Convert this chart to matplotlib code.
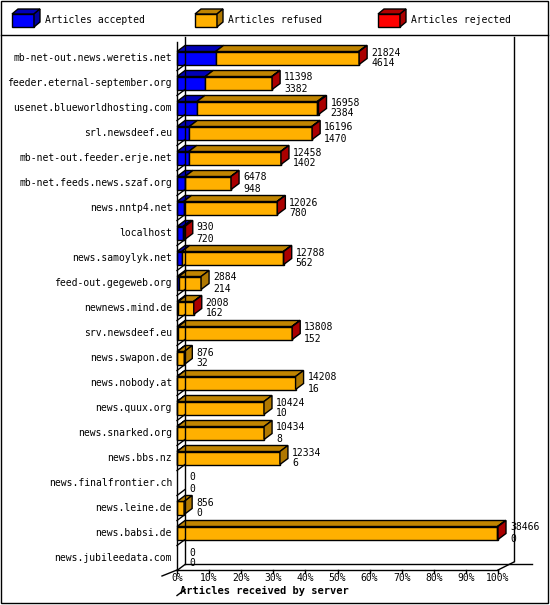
import matplotlib
matplotlib.use("Agg")
import matplotlib.pyplot as plt
from matplotlib.patches import Polygon, Rectangle

servers = ["mb-net-out.news.weretis.net", "feeder.eternal-september.org", "usenet.blueworldhosting.com",
           "srl.newsdeef.eu", "mb-net-out.feeder.erje.net", "mb-net.feeds.news.szaf.org", "news.nntp4.net",
           "localhost", "news.samoylyk.net", "feed-out.gegeweb.org", "newnews.mind.de", "srv.newsdeef.eu",
           "news.swapon.de", "news.nobody.at", "news.quux.org", "news.snarked.org", "news.bbs.nz",
           "news.finalfrontier.ch", "news.leine.de", "news.babsi.de", "news.jubileedata.com"]
offered = [21824, 11398, 16958, 16196, 12458, 6478, 12026, 930, 12788, 2884, 2008, 13808,
           876, 14208, 10424, 10434, 12334, 0, 856, 38466, 0]
accepted = [4614, 3382, 2384, 1470, 1402, 948, 780, 720, 562, 214, 162, 152, 32, 16, 10, 8, 6, 0, 0, 0, 0]
rejected = [60, 40, 150, 50, 40, 20, 40, 210, 40, 0, 30, 40, 0, 0, 0, 0, 0, 0, 0, 60, 0]
legend_labels = ["Articles accepted", "Articles refused", "Articles rejected"]
ticks = list(range(0, 101, 10))

W, H = 550, 605
fig = plt.figure(figsize=(5.5, 6.05), dpi=100)
ax = fig.add_axes([0, 0, 1, 1])
PX = 3.21  # px per percent
x0 = 177
ax.set_xlim(-x0 / PX, (W - x0) / PX)
RS = 25.0
ax.set_ylim((H - 58) / RS, -58 / RS)
ax.axis("off")
dx, dy = 8 / PX, -6 / RS
hh = 6.5 / RS
mono = "DejaVu Sans Mono"
FS = 7

def px(xp): return (xp - x0) / PX
def py(yp): return (yp - 58) / RS

fronts = ["#0000ff", "#ffb000", "#ff0000"]
tops = ["#0000b8", "#c08400", "#b00000"]
sides = ["#0000a0", "#b07800", "#aa0000"]

ax.add_patch(Rectangle((px(1), py(1)), px(548) - px(1), py(603) - py(1), fill=False, lw=1, ec="black"))
ax.plot([px(1), px(548)], [py(35), py(35)], color="black", lw=1)

for k, (lx, lab) in enumerate(zip([12, 195, 378], legend_labels)):
    x, y = px(lx), py(27)
    w, h = 22 / PX, 13 / RS
    ddx, ddy = 6 / PX, -5 / RS
    ax.add_patch(Polygon([(x, y), (x + w, y), (x + w, y - h), (x, y - h)], fc=fronts[k], ec="black", lw=1))
    ax.add_patch(Polygon([(x, y - h), (x + w, y - h), (x + w + ddx, y - h + ddy), (x + ddx, y - h + ddy)], fc=tops[k], ec="black", lw=1))
    ax.add_patch(Polygon([(x + w, y), (x + w + ddx, y + ddy), (x + w + ddx, y - h + ddy), (x + w, y - h)], fc=sides[k], ec="black", lw=1))
    ax.text(px(lx + 33), py(20), lab, family=mono, fontsize=FS, va="center")

ax.plot([0, 0], [py(42), py(570)], color="black", lw=1)
ax.plot([dx, dx], [py(37), py(564)], color="black", lw=1)
ax.plot([100 + dx + 8 / PX, 100 + dx + 8 / PX], [py(37), py(561)], color="black", lw=1)
ax.plot([dx, px(532)], [py(564), py(564)], color="black", lw=1)
ax.plot([0, 100], [py(570), py(570)], color="black", lw=1)
ax.plot([100, 100 + dx + 8 / PX], [py(570), py(562)], color="black", lw=1)
ax.plot([px(162), 0], [py(576), py(570)], color="black", lw=1)
for i in range(len(servers) + 1):
    yb = i + 0.5
    ax.plot([0, dx], [yb, yb + dy], color="black", lw=1)
for t in ticks:
    ax.plot([t, t], [py(570), py(573)], color="black", lw=1)
    ax.text(t, py(578), f"{t}%", family=mono, fontsize=FS, ha="center", va="center")
ax.text(px(180), py(591), "Articles received by server", family=mono, fontsize=7.5, fontweight="bold", va="center")

maxv = max(offered)
for i, name in enumerate(servers):
    ax.text(px(172), i, name, family=mono, fontsize=FS, ha="right", va="center")
    tot = offered[i]
    segs = [accepted[i], tot - accepted[i] - rejected[i], rejected[i]]
    xs = 0
    yb, yt = i + hh, i - hh
    last = 0
    for k, v in enumerate(segs):
        if v <= 0:
            continue
        w = v / maxv * 100
        ax.add_patch(Polygon([(xs, yb), (xs + w, yb), (xs + w, yt), (xs, yt)], fc=fronts[k], ec="black", lw=1))
        ax.add_patch(Polygon([(xs, yt), (xs + w, yt), (xs + w + dx, yt + dy), (xs + dx, yt + dy)], fc=tops[k], ec="black", lw=1))
        xs += w
        last = k
    if tot > 0:
        ax.add_patch(Polygon([(xs, yb), (xs + dx, yb + dy), (xs + dx, yt + dy), (xs, yt)], fc=sides[last], ec="black", lw=1))
    tx = tot / maxv * 100 + dx + 4 / PX
    ax.text(tx, i - 0.22, str(tot), family=mono, fontsize=FS, va="center")
    ax.text(tx, i + 0.22, str(accepted[i]), family=mono, fontsize=FS, va="center")

fig.savefig("out.png", dpi=100)
